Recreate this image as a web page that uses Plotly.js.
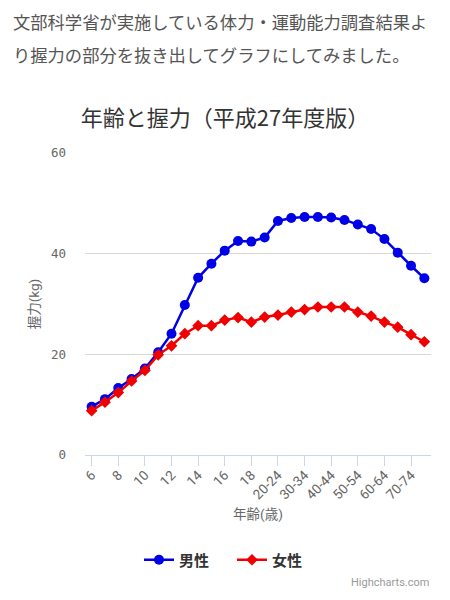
<!DOCTYPE html>
<html>
<head>
<meta charset="utf-8">
<script src="https://cdn.plot.ly/plotly-3.0.1.min.js"></script>
<style>
  body { margin: 0; background: #fff; }
  #chart { position: absolute; left: 0; top: 0; width: 450px; height: 600px; }
  #intro {
    position: absolute; left: 13px; top: 5px; width: 430px; z-index: 2;
    font-family: 'Noto Sans CJK JP', sans-serif; font-size: 17.3px;
    line-height: 33px; color: #555;
  }
</style>
</head>
<body>
<div id="chart"></div>
<div id="intro">文部科学省が実施している体力・運動能力調査結果より握力の部分を抜き出してグラフにしてみました。</div>
<script>
// 年齢区分 (6〜19歳は1歳刻み、20歳以降は5歳刻み)
const AGES = ['6', '7', '8', '9', '10', '11', '12', '13', '14', '15', '16', '17', '18', '19',
  '20-24', '25-29', '30-34', '35-39', '40-44', '45-49', '50-54', '55-59',
  '60-64', '65-69', '70-74', '75-79'];

// 握力 (kg)
const MALE = [9.6, 11.1, 13.3, 15.1, 17.2, 20.4, 24.1, 29.8, 35.2, 38.0, 40.6, 42.5, 42.4, 43.2,
  46.5, 47.1, 47.3, 47.3, 47.2, 46.7, 45.8, 44.9, 42.9, 40.2, 37.6, 35.1];
const FEMALE = [8.8, 10.5, 12.4, 14.7, 16.8, 19.9, 21.7, 24.1, 25.7, 25.7, 26.8, 27.3, 26.4, 27.4,
  27.8, 28.4, 28.9, 29.4, 29.4, 29.4, 28.4, 27.6, 26.4, 25.4, 23.9, 22.5];

const SERIES_NAMES = ['男性', '女性'];

const JP = "Roboto, 'Noto Sans CJK JP', sans-serif";
const MONO = "'DejaVu Sans Mono', monospace";

// plot area in page pixels
const PLOT_L = 85, PLOT_R = 431, PLOT_T = 153, PLOT_B = 455;
const pw = PLOT_R - PLOT_L, ph = PLOT_B - PLOT_T;

const traces = [
  {
    x: AGES, y: MALE, name: SERIES_NAMES[0],
    type: 'scatter', mode: 'lines+markers',
    line: { color: '#0000e6', width: 2.5 },
    marker: { color: '#0000e6', size: 10, symbol: 'circle' },
  },
  {
    x: AGES, y: FEMALE, name: SERIES_NAMES[1],
    type: 'scatter', mode: 'lines+markers',
    line: { color: '#f00000', width: 2.5 },
    marker: { color: '#f00000', size: 9, symbol: 'diamond' },
  },
];

const layout = {
  width: 450, height: 600,
  autosize: false,
  paper_bgcolor: '#fff', plot_bgcolor: '#fff',
  font: { family: JP, color: '#666' },
  margin: { t: PLOT_T, r: 450 - PLOT_R, b: 600 - PLOT_B, l: PLOT_L, pad: 0, autoexpand: false },
  title: {
    text: '年齢と握力（平成27年度版）',
    font: { family: "'Noto Sans CJK JP', sans-serif", size: 22, color: '#333' },
    x: 0.5, xanchor: 'center', xref: 'container',
    y: 1 - 118 / 600, yanchor: 'middle', yref: 'container',
  },
  xaxis: {
    type: 'category',
    tickmode: 'linear', tick0: 0, dtick: 2,
    tickangle: -45,
    tickfont: { family: JP, size: 13.5, color: '#666' },
    ticks: 'outside', ticklen: 10, tickcolor: '#ccd6eb', tickwidth: 1,
    ticklabelstandoff: -4,
    showline: true, linecolor: '#ccd6eb', linewidth: 1,
    showgrid: false, zeroline: false,
    range: [-0.5, 25.5],
    title: { text: '年齢(歳)', font: { family: JP, size: 13.5, color: '#666' }, standoff: 8 },
    automargin: false,
    fixedrange: true,
  },
  yaxis: {
    range: [0, 60], dtick: 20, tick0: 0,
    tickfont: { family: MONO, size: 12.5, color: '#666' },
    ticklabelstandoff: 18,
    showgrid: true, gridcolor: '#d8d8d8', gridwidth: 1,
    zeroline: false, showline: false,
    title: { text: '握力(kg)', font: { family: JP, size: 13.5, color: '#666' }, standoff: 8 },
    automargin: false,
    fixedrange: true,
  },
  showlegend: true,
  legend: {
    orientation: 'h',
    x: (232 - PLOT_L) / pw, xanchor: 'center',
    y: (PLOT_B - 560) / ph, yanchor: 'middle',
    font: { family: JP, size: 15, color: '#333', weight: 'bold' },
    entrywidth: 48, entrywidthmode: 'pixels',
    tracegroupgap: 0,
  },
  annotations: [{
    text: 'Highcharts.com',
    xref: 'paper', yref: 'paper', x: 1, y: (PLOT_B - 582) / ph,
    xanchor: 'right', yanchor: 'middle', showarrow: false,
    font: { family: JP, size: 11, color: '#999' },
  }],
};

Plotly.newPlot('chart', traces, layout, { displayModeBar: false, staticPlot: true });
</script>
</body>
</html>
